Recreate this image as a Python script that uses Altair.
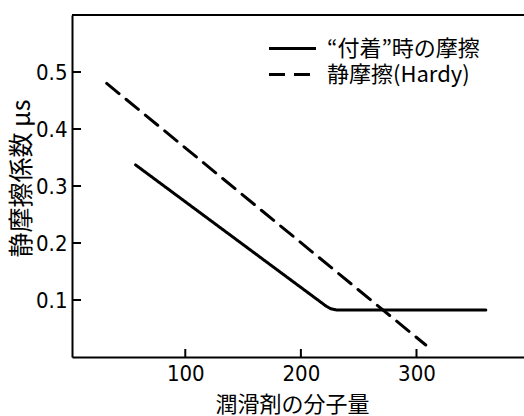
import altair as alt
import pandas as pd

# data
series_names = ["“付着”時の摩擦", "静摩擦(Hardy)"]
solid_x = [57, 222, 226, 231, 360]
solid_y = [0.337, 0.089, 0.0845, 0.0825, 0.0825]
dashed_x = [32, 308]
dashed_y = [0.480, 0.021]
x_ticks = [100, 200, 300]
y_ticks = [0.1, 0.2, 0.3, 0.4, 0.5]

W, H = 452, 342
NUM_FONT = "Liberation Sans Narrow, DejaVu Sans Condensed, Liberation Sans, sans-serif"
JP_FONT = "Noto Sans CJK JP"

rows = []
for i, (x, y) in enumerate(zip(solid_x, solid_y)):
    rows.append({"series": series_names[0], "x": x, "y": y, "o": i})
for i, (x, y) in enumerate(zip(dashed_x, dashed_y)):
    rows.append({"series": series_names[1], "x": x, "y": y, "o": i})
df = pd.DataFrame(rows)

xs = alt.Scale(domain=[2, 393], nice=False, zero=False)
ys = alt.Scale(domain=[0, 0.6], nice=False, zero=False)

lines = alt.Chart(df).mark_line(color="black", strokeWidth=3, strokeCap="round").encode(
    x=alt.X("x:Q", scale=xs,
            axis=alt.Axis(values=x_ticks, ticks=False, grid=False, domainColor="black",
                          domainWidth=2, labelFont=NUM_FONT, labelFontSize=22,
                          labelColor="black", labelPadding=6, title="潤滑剤の分子量",
                          titleFont=JP_FONT, titleFontSize=22, titleFontWeight="normal",
                          titleColor="black", titlePadding=10, titleX=220, labelFlush=False)),
    y=alt.Y("y:Q", scale=ys,
            axis=alt.Axis(values=y_ticks, ticks=False, grid=False, domainColor="black",
                          domainWidth=2, format=".1f", labelFont=NUM_FONT, labelFontSize=22,
                          labelColor="black", labelPadding=5, title="静摩擦係数  μs",
                          titleFont=JP_FONT, titleFontSize=25, titleFontWeight="normal",
                          titleColor="black", titleBaseline="middle", titleX=-51,
                          titleY=163, titleAngle=270)),
    strokeDash=alt.StrokeDash(
        "series:N",
        scale=alt.Scale(domain=series_names, range=[[1, 0], [16, 9]]),
        legend=alt.Legend(orient="none", legendX=207, legendY=20, title=None,
                          symbolType="M-1.96,0H1.96", symbolSize=576, symbolStrokeWidth=3,
                          symbolStrokeColor="black", labelFont=JP_FONT, labelFontSize=22,
                          labelColor="black", labelOffset=21, rowPadding=1, padding=0),
    ),
    order="o:Q",
)

xt = alt.Chart(pd.DataFrame({"t": x_ticks})).mark_rule(color="black", strokeWidth=2).encode(
    x=alt.X("t:Q", scale=xs), y=alt.value(H), y2=alt.value(H - 8)
)
yt = alt.Chart(pd.DataFrame({"t": y_ticks})).mark_rule(color="black", strokeWidth=2).encode(
    y=alt.Y("t:Q", scale=ys), x=alt.value(0), x2=alt.value(9)
)
top = alt.Chart(pd.DataFrame({"t": [0]})).mark_rule(color="black", strokeWidth=2).encode(
    x=alt.value(0), x2=alt.value(W), y=alt.value(0)
)

chart = alt.layer(lines, xt, yt, top).properties(
    width=W, height=H, autosize=alt.AutoSizeParams(type="none"),
    padding={"left": 72, "top": 15, "right": 0, "bottom": 59},
).configure_view(stroke=None).configure(background="white")

chart.save("out.html", embed_options={"renderer": "svg", "actions": False})
